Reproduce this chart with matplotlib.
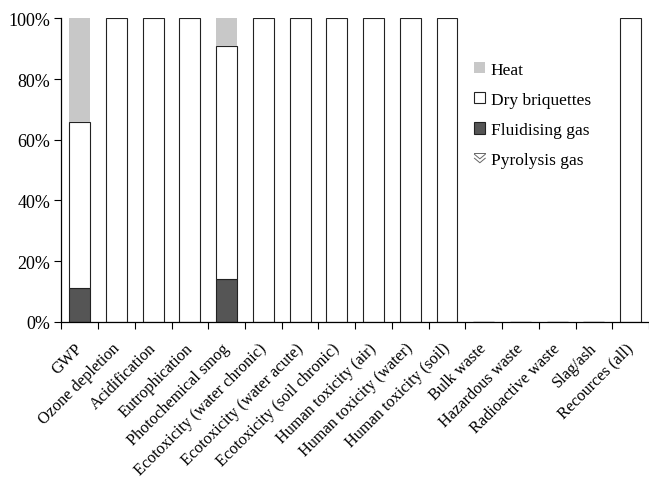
import matplotlib
matplotlib.use("Agg")
import matplotlib.pyplot as plt
import matplotlib.transforms as mtransforms
import numpy as np
from matplotlib.patches import Patch
from matplotlib.lines import Line2D
from matplotlib.legend_handler import HandlerBase

plt.rcParams['font.family'] = ['Liberation Serif', 'DejaVu Serif']

categories = ["GWP", "Ozone depletion", "Acidification", "Eutrophication",
              "Photochemical smog", "Ecotoxicity (water chronic)",
              "Ecotoxicity (water acute)", "Ecotoxicity (soil chronic)",
              "Human toxicity (air)", "Human toxicity (water)",
              "Human toxicity (soil)", "Bulk waste", "Hazardous waste",
              "Radioactive waste", "Slag/ash", "Recources (all)"]
pyrolysis_gas = [0, 0, 0, 0, 0, 0, 0, 0, 0, 0, 0, 0, 0, 0, 0, 0]
fluidising_gas = [11, 0, 0, 0, 14, 0, 0, 0, 0, 0, 0, 0, 0, 0, 0, 0]
dry_briquettes = [55, 100, 100, 100, 77, 100, 100, 100, 100, 100, 100, 0, 0, 0, 0, 100]
heat = [34, 0, 0, 0, 9, 0, 0, 0, 0, 0, 0, 0, 0, 0, 0, 0]
y_ticks = [0, 20, 40, 60, 80, 100]


class ChevronHandler(HandlerBase):
    def create_artists(self, legend, orig_handle, xdescent, ydescent,
                       width, height, fontsize, trans):
        arts = []
        w, h = width, height
        x0, y0 = -xdescent, -ydescent
        # short top stroke plus two stacked chevrons
        arts.append(Line2D([x0, x0 + w], [y0 + h * 0.95] * 2, color="#666666",
                           lw=0.7, transform=trans))
        for yy in (0.65, 0.3):
            arts.append(Line2D([x0, x0 + w / 2, x0 + w],
                               [y0 + h * (yy + 0.2), y0 + h * (yy - 0.2), y0 + h * (yy + 0.2)],
                               color="#666666", lw=0.7, transform=trans))
        return arts


fig = plt.figure(figsize=(6.49, 4.85), dpi=100)
ax = fig.add_axes([0.0945, 0.3346, 0.9055, 0.6254])

x = np.arange(len(categories))
bw = 0.57
fl = np.array(fluidising_gas)
dr = np.array(dry_briquettes)
ht = np.array(heat)
py = np.array(pyrolysis_gas)

ax.bar(x, py, bw, color="white", edgecolor="#222222", lw=0.8)
ax.bar(x, fl, bw, bottom=py, color="#555555", edgecolor="#222222", lw=0.8)
ax.bar(x, dr, bw, bottom=py + fl, color="white", edgecolor="#222222", lw=0.8)
ax.bar(x, ht, bw, bottom=py + fl + dr, color="#c8c8c8", edgecolor="none")

ax.set_xlim(-0.5, len(categories) - 0.5)
ax.set_ylim(0, 100)
ax.set_yticks(y_ticks)
ax.set_yticklabels([f"{v}%" for v in y_ticks], fontsize=13)

ax.set_xticks(np.arange(len(categories) + 1) - 0.5)
ax.set_xticklabels([])
ax.set_xticks(x, minor=True)
ax.set_xticklabels(categories, minor=True, rotation=45, ha="right",
                   rotation_mode="anchor", fontsize=11.7)
ax.tick_params(axis="x", which="minor", length=0, pad=8)
ax.tick_params(axis="x", which="major", length=5, width=0.8, direction="out")
ax.tick_params(axis="y", length=5, width=0.8, direction="out", pad=3)

# nudge the rotated category labels left and down
shift = mtransforms.ScaledTranslation(-5 / 100, -7 / 100, fig.dpi_scale_trans)
for lab in ax.xaxis.get_minorticklabels():
    lab.set_transform(lab.get_transform() + shift)

for s in ("top", "right"):
    ax.spines[s].set_visible(False)
for s in ("left", "bottom"):
    ax.spines[s].set_linewidth(0.9)

handles = [Patch(facecolor="#c8c8c8", edgecolor="none"),
           Patch(facecolor="white", edgecolor="#222222", lw=0.8),
           Patch(facecolor="#555555", edgecolor="#222222", lw=0.8),
           "pyro"]
labels = ["Heat", "Dry briquettes", "Fluidising gas", "Pyrolysis gas"]
fig.legend(handles, labels, loc="upper left", bbox_to_anchor=(0.707, 0.903),
           frameon=False, fontsize=12.5, handlelength=0.62, handleheight=0.62,
           handletextpad=0.32, labelspacing=0.82,
           handler_map={str: ChevronHandler()})

fig.savefig("out.png", dpi=100)
